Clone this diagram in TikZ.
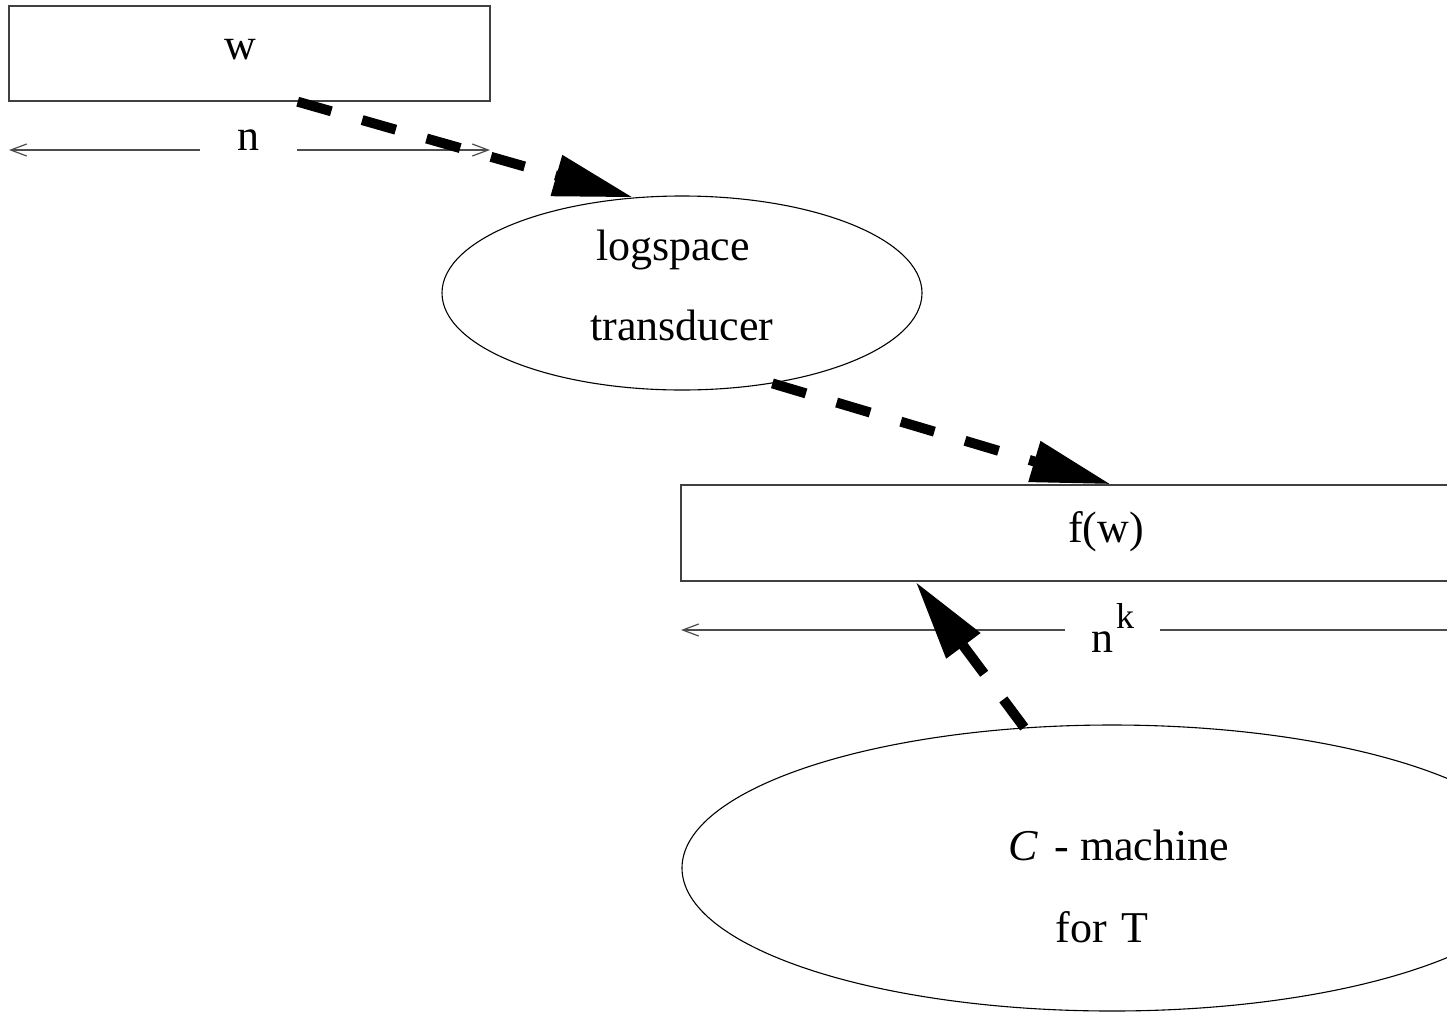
\documentclass[tikz,border=0pt]{standalone}
\usepackage{fontspec}
\setmainfont{Liberation Serif}
\usetikzlibrary{arrows.meta,shapes.geometric}
\begin{document}
\begin{tikzpicture}[x=1pt,y=-1pt,
  box/.style={draw=black!75, line width=1.4pt, rectangle, inner sep=0pt},
  oval/.style={draw=black, line width=1.1pt, ellipse, inner sep=0pt},
  lbl/.style={anchor=base, inner sep=0pt, font=\fontsize{44}{52}\selectfont},
  exponent/.style={anchor=base, inner sep=0pt, font=\fontsize{36}{42}\selectfont},
  dimline/.style={draw=black!70, line width=1.2pt, -{Straight Barb[length=16pt,width=12pt]}},
  flow/.style={line width=10pt, dash pattern=on 35pt off 32pt, -{Triangle[length=80pt,width=40pt]}},
]
\useasboundingbox (0,0) rectangle (1447,1012);
\clip (0,0) rectangle (1447,1012);
\fill[white] (0,0) rectangle (1447,1012);

% shapes
\node[box, minimum width=481pt, minimum height=95pt] (wbox) at (249.5,53.5) {};
\node[box, minimum width=860pt, minimum height=96pt] (fbox) at (1111,533) {};
\node[oval, minimum width=480pt, minimum height=194pt] (ls) at (682,293) {};
\node[oval, minimum width=860pt, minimum height=286pt] (cm) at (1112,868) {};

% texts
\node[lbl] (tw) at (240,59) {w};
\node[lbl] (tn) at (248,150) {n};
\node[lbl] (tls) at (673,260) {logspace};
\node[lbl] (ttr) at (682,340) {transducer};
\node[lbl] (tf) at (1106,542) {f(w)};
\node[lbl] (tnk) at (1102,652) {n};
\node[exponent] (tk) at (1125,628) {k};
\node[lbl] (tc) at (1119,860) {\textit{C}\hspace{16pt}- machine};
\node[lbl] (tfor) at (1102,942) {for\hspace{14pt}T};

% dimension lines
\coordinate (nL) at (9,150);
\coordinate (nLg) at (200,150);
\coordinate (nRg) at (297,150);
\coordinate (nR) at (490,150);
\draw[dimline] (nLg) -- (nL);
\draw[dimline] (nRg) -- (nR);

\coordinate (kL) at (681,630);
\coordinate (kLg) at (1065,630);
\coordinate (kRg) at (1160,630);
\coordinate (kR) at (1541,630);
\draw[dimline] (kLg) -- (kL);
\draw[dimline] (kRg) -- (kR);

% flow arrows
\draw[flow] (wbox.-45) -- (ls.117.5);
\draw[flow] (ls.-45) -- (fbox.north);
\draw[flow] (cm.122.7) -- (fbox.-166.9);
\end{tikzpicture}
\end{document}
